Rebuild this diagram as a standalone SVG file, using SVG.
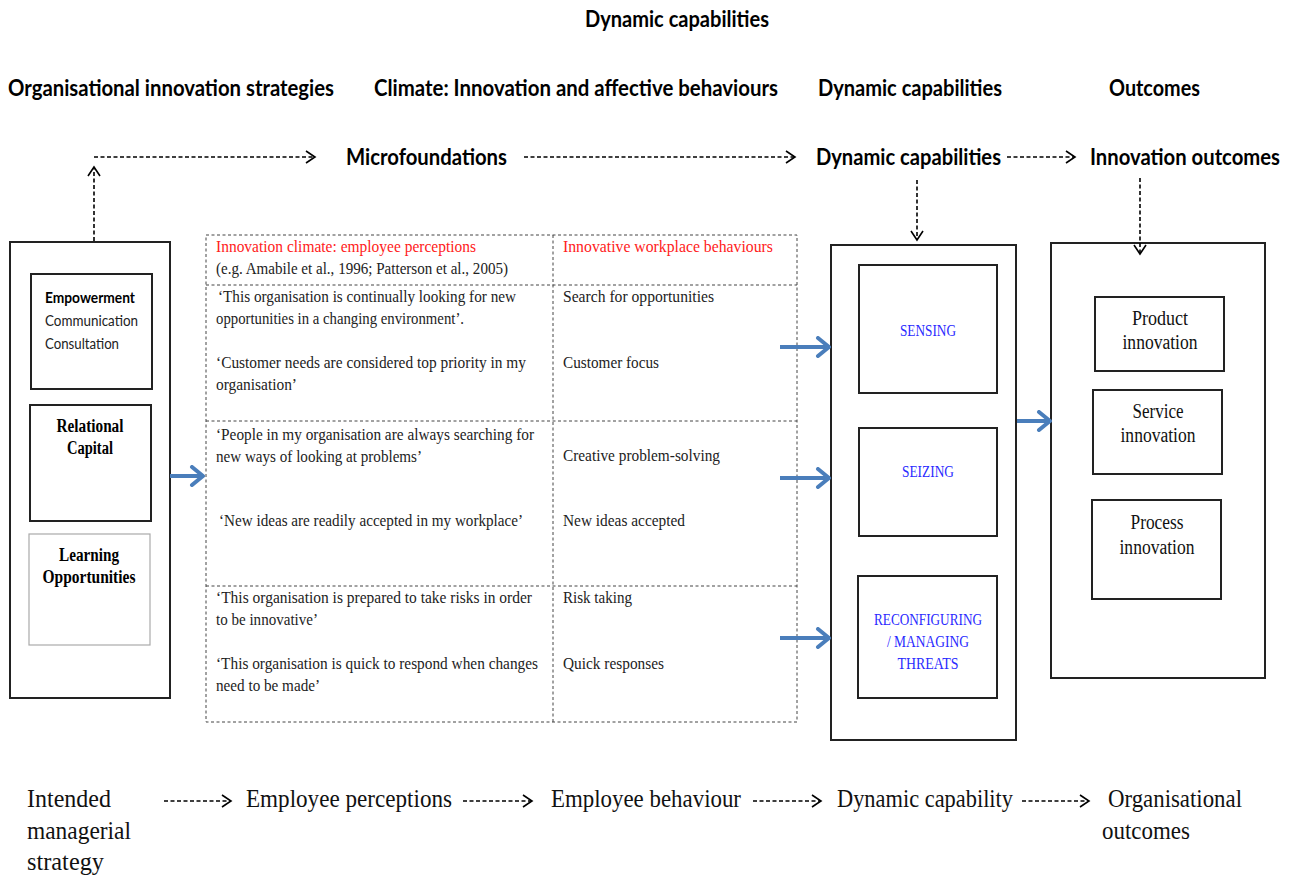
<svg xmlns="http://www.w3.org/2000/svg" width="1297" height="878" viewBox="0 0 1297 878">
<defs>
<style>
.hd{font-family:Lato,"Open Sans","Liberation Sans",sans-serif;font-weight:bold;font-size:23px;fill:#000}
.sv{font-family:"Liberation Serif","DejaVu Serif",serif;font-size:17px;fill:#222}
.red{fill:#ff2020}
.blue{font-family:"Liberation Serif",serif;font-size:17px;fill:#2a2aff}
.oc{font-family:"Liberation Serif",serif;font-size:20px;fill:#111}
.bt{font-family:"Liberation Serif",serif;font-size:25px;fill:#111}
.box{fill:#fff;stroke:#222;stroke-width:2}
.dash{stroke:#000;stroke-width:1.6;stroke-dasharray:4,2.5;fill:none}
.tbl{stroke:#444;stroke-width:1;stroke-dasharray:3,2.5;fill:none}
.barrow{stroke:#4a7ebb;stroke-width:4;fill:none}
</style>
<marker id="oh" markerUnits="userSpaceOnUse" markerWidth="14" markerHeight="16" refX="10" refY="7" orient="auto">
<path d="M1,1 L10,7 L1,13" fill="none" stroke="#000" stroke-width="1.6"/>
</marker>
<marker id="bh" markerUnits="userSpaceOnUse" markerWidth="18" markerHeight="22" refX="14" refY="11" orient="auto">
<path d="M3,2 L14,11 L3,20" fill="none" stroke="#4a7ebb" stroke-width="4" stroke-linecap="round" stroke-linejoin="round"/>
</marker>
</defs>
<rect width="1297" height="878" fill="#fff"/>

<g id="headers">
<text class="hd" x="677" y="27" text-anchor="middle" textLength="184" lengthAdjust="spacingAndGlyphs">Dynamic capabilities</text>
<text class="hd" x="8" y="96" textLength="326" lengthAdjust="spacingAndGlyphs">Organisational innovation strategies</text>
<text class="hd" x="374" y="96" textLength="404" lengthAdjust="spacingAndGlyphs">Climate: Innovation and affective behaviours</text>
<text class="hd" x="818" y="96" textLength="184" lengthAdjust="spacingAndGlyphs">Dynamic capabilities</text>
<text class="hd" x="1109" y="96" textLength="91" lengthAdjust="spacingAndGlyphs">Outcomes</text>
<text class="hd" x="346" y="165" textLength="161" lengthAdjust="spacingAndGlyphs">Microfoundations</text>
<text class="hd" x="816" y="165" textLength="185" lengthAdjust="spacingAndGlyphs">Dynamic capabilities</text>
<text class="hd" x="1090" y="165" textLength="190" lengthAdjust="spacingAndGlyphs">Innovation outcomes</text>
</g>

<g id="strategies">
<rect class="box" x="10" y="242" width="160" height="456"/>
<g id="empowerment">
<rect class="box" x="31" y="274" width="121" height="115"/>
<text x="45" y="303" font-family="Lato,'Open Sans',sans-serif" font-weight="bold" font-size="15.5" textLength="90" lengthAdjust="spacingAndGlyphs">Empowerment</text>
<text x="45" y="326" font-family="Lato,'Open Sans',sans-serif" font-size="15.5" fill="#222" textLength="93" lengthAdjust="spacingAndGlyphs">Communication</text>
<text x="45" y="349" font-family="Lato,'Open Sans',sans-serif" font-size="15.5" fill="#222" textLength="74" lengthAdjust="spacingAndGlyphs">Consultation</text>
</g>
<g id="relational">
<rect class="box" x="30" y="405" width="121" height="116"/>
<text x="90" y="432" text-anchor="middle" font-family="'Liberation Serif',serif" font-weight="bold" font-size="18" textLength="67" lengthAdjust="spacingAndGlyphs">Relational</text>
<text x="90" y="454" text-anchor="middle" font-family="'Liberation Serif',serif" font-weight="bold" font-size="18" textLength="46" lengthAdjust="spacingAndGlyphs">Capital</text>
</g>
<g id="learning">
<rect x="29" y="534" width="121" height="111" fill="#fff" stroke="#aaa" stroke-width="1.2"/>
<text x="89" y="561" text-anchor="middle" font-family="'Liberation Serif',serif" font-weight="bold" font-size="18" textLength="60" lengthAdjust="spacingAndGlyphs">Learning</text>
<text x="89" y="583" text-anchor="middle" font-family="'Liberation Serif',serif" font-weight="bold" font-size="18" textLength="93" lengthAdjust="spacingAndGlyphs">Opportunities</text>
</g>
</g>

<g id="climate-table">
<rect class="tbl" x="206" y="235" width="591" height="487"/>
<line class="tbl" x1="553" y1="235" x2="553" y2="722"/>
<line class="tbl" x1="206" y1="285" x2="797" y2="285"/>
<line class="tbl" x1="206" y1="421" x2="797" y2="421"/>
<line class="tbl" x1="206" y1="586" x2="797" y2="586"/>
<text class="sv red" x="216" y="252" textLength="260" lengthAdjust="spacingAndGlyphs">Innovation climate: employee perceptions</text>
<text class="sv" x="216" y="274" textLength="292" lengthAdjust="spacingAndGlyphs">(e.g. Amabile et al., 1996; Patterson et al., 2005)</text>
<text class="sv" x="218" y="302" textLength="298" lengthAdjust="spacingAndGlyphs">‘This organisation is continually looking for new</text>
<text class="sv" x="216" y="324" textLength="248" lengthAdjust="spacingAndGlyphs">opportunities in a changing environment’.</text>
<text class="sv" x="216" y="368" textLength="310" lengthAdjust="spacingAndGlyphs">‘Customer needs are considered top priority in my</text>
<text class="sv" x="216" y="390" textLength="81" lengthAdjust="spacingAndGlyphs">organisation’</text>
<text class="sv" x="216" y="440" textLength="318" lengthAdjust="spacingAndGlyphs">‘People in my organisation are always searching for</text>
<text class="sv" x="216" y="462" textLength="206" lengthAdjust="spacingAndGlyphs">new ways of looking at problems’</text>
<text class="sv" x="219" y="526" textLength="304" lengthAdjust="spacingAndGlyphs">‘New ideas are readily accepted in my workplace’</text>
<text class="sv" x="216" y="603" textLength="316" lengthAdjust="spacingAndGlyphs">‘This organisation is prepared to take risks in order</text>
<text class="sv" x="216" y="625" textLength="102" lengthAdjust="spacingAndGlyphs">to be innovative’</text>
<text class="sv" x="216" y="669" textLength="322" lengthAdjust="spacingAndGlyphs">‘This organisation is quick to respond when changes</text>
<text class="sv" x="216" y="691" textLength="104" lengthAdjust="spacingAndGlyphs">need to be made’</text>
<text class="sv red" x="563" y="252" textLength="210" lengthAdjust="spacingAndGlyphs">Innovative workplace  behaviours</text>
<text class="sv" x="563" y="302" textLength="151" lengthAdjust="spacingAndGlyphs">Search for opportunities</text>
<text class="sv" x="563" y="368" textLength="96" lengthAdjust="spacingAndGlyphs">Customer focus</text>
<text class="sv" x="563" y="461" textLength="157" lengthAdjust="spacingAndGlyphs">Creative problem-solving</text>
<text class="sv" x="563" y="526" textLength="122" lengthAdjust="spacingAndGlyphs">New ideas accepted</text>
<text class="sv" x="563" y="603" textLength="69" lengthAdjust="spacingAndGlyphs">Risk taking</text>
<text class="sv" x="563" y="669" textLength="101" lengthAdjust="spacingAndGlyphs">Quick responses</text>
</g>

<g id="dynamic-capabilities">
<rect class="box" x="831" y="245" width="185" height="495"/>
<g id="sensing">
<rect class="box" x="859" y="265" width="138" height="128"/>
<text class="blue" x="928" y="336" text-anchor="middle" textLength="56" lengthAdjust="spacingAndGlyphs">SENSING</text>
</g>
<g id="seizing">
<rect class="box" x="859" y="428" width="138" height="108"/>
<text class="blue" x="928" y="477" text-anchor="middle" textLength="52" lengthAdjust="spacingAndGlyphs">SEIZING</text>
</g>
<g id="reconfiguring">
<rect class="box" x="858" y="576" width="139" height="122"/>
<text class="blue" x="928" y="625" text-anchor="middle" textLength="108" lengthAdjust="spacingAndGlyphs">RECONFIGURING</text>
<text class="blue" x="928" y="647" text-anchor="middle" textLength="82" lengthAdjust="spacingAndGlyphs">/ MANAGING</text>
<text class="blue" x="928" y="669" text-anchor="middle" textLength="61" lengthAdjust="spacingAndGlyphs">THREATS</text>
</g>
</g>

<g id="outcomes">
<rect class="box" x="1051" y="243" width="214" height="435"/>
<g id="product">
<rect class="box" x="1095" y="297" width="129" height="74"/>
<text class="oc" x="1160" y="325" text-anchor="middle" textLength="56" lengthAdjust="spacingAndGlyphs">Product</text>
<text class="oc" x="1160" y="349" text-anchor="middle" textLength="75" lengthAdjust="spacingAndGlyphs">innovation</text>
</g>
<g id="service">
<rect class="box" x="1093" y="390" width="129" height="84"/>
<text class="oc" x="1158" y="418" text-anchor="middle" textLength="51" lengthAdjust="spacingAndGlyphs">Service</text>
<text class="oc" x="1158" y="442" text-anchor="middle" textLength="75" lengthAdjust="spacingAndGlyphs">innovation</text>
</g>
<g id="process">
<rect class="box" x="1092" y="500" width="129" height="99"/>
<text class="oc" x="1157" y="529" text-anchor="middle" textLength="53" lengthAdjust="spacingAndGlyphs">Process</text>
<text class="oc" x="1157" y="554" text-anchor="middle" textLength="75" lengthAdjust="spacingAndGlyphs">innovation</text>
</g>
</g>

<g id="bottom-row">
<text class="bt" x="27" y="807" textLength="84" lengthAdjust="spacingAndGlyphs">Intended</text>
<text class="bt" x="27" y="839" textLength="104" lengthAdjust="spacingAndGlyphs">managerial</text>
<text class="bt" x="27" y="870" textLength="77" lengthAdjust="spacingAndGlyphs">strategy</text>
<text class="bt" x="246" y="807" textLength="206" lengthAdjust="spacingAndGlyphs">Employee perceptions</text>
<text class="bt" x="551" y="807" textLength="190" lengthAdjust="spacingAndGlyphs">Employee behaviour</text>
<text class="bt" x="837" y="807" textLength="176" lengthAdjust="spacingAndGlyphs">Dynamic capability</text>
<text class="bt" x="1108" y="807" textLength="134" lengthAdjust="spacingAndGlyphs">Organisational</text>
<text class="bt" x="1102" y="839" textLength="88" lengthAdjust="spacingAndGlyphs">outcomes</text>
</g>

<g id="connectors">
<line class="dash" x1="94" y1="157" x2="315" y2="157" marker-end="url(#oh)"/>
<line class="dash" x1="524" y1="157" x2="795" y2="157" marker-end="url(#oh)"/>
<line class="dash" x1="1007" y1="157" x2="1075" y2="157" marker-end="url(#oh)"/>
<line class="dash" x1="94" y1="241" x2="94" y2="167" marker-end="url(#oh)"/>
<line class="dash" x1="917" y1="180" x2="917" y2="240" marker-end="url(#oh)"/>
<line class="dash" x1="1140" y1="178" x2="1140" y2="254" marker-end="url(#oh)"/>
<line class="barrow" x1="170" y1="476" x2="203" y2="476" marker-end="url(#bh)"/>
<line class="barrow" x1="780" y1="347" x2="829" y2="347" marker-end="url(#bh)"/>
<line class="barrow" x1="780" y1="478" x2="829" y2="478" marker-end="url(#bh)"/>
<line class="barrow" x1="780" y1="638" x2="829" y2="638" marker-end="url(#bh)"/>
<line class="barrow" x1="1017" y1="421" x2="1050" y2="421" marker-end="url(#bh)"/>
<line class="dash" x1="164" y1="801" x2="231" y2="801" marker-end="url(#oh)"/>
<line class="dash" x1="463" y1="801" x2="532" y2="801" marker-end="url(#oh)"/>
<line class="dash" x1="753" y1="801" x2="821" y2="801" marker-end="url(#oh)"/>
<line class="dash" x1="1022" y1="801" x2="1089" y2="801" marker-end="url(#oh)"/>
</g>
</svg>
